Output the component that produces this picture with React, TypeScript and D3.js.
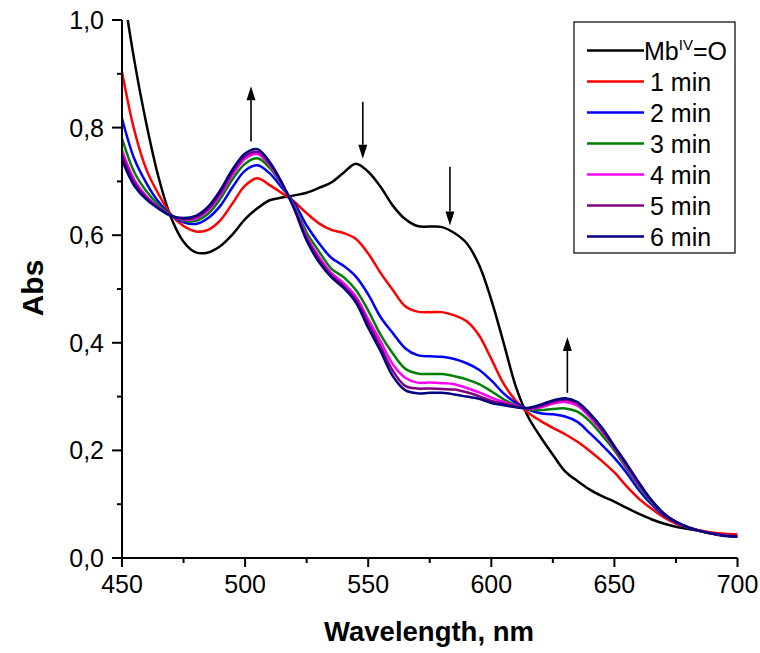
import React from "react";
import * as d3 from "d3";

const wavelengths = [450,455,460,465,470,475,480,485,490,495,500,505,510,515,520,525,530,535,540,545,550,555,560,565,570,575,580,585,590,595,600,605,610,615,620,625,630,635,640,645,650,655,660,665,670,675,680,685,690,695,700];

const mbIV = [1.07,0.925,0.805,0.705,0.632,0.588,0.568,0.568,0.580,0.602,0.630,0.650,0.665,0.670,0.674,0.679,0.688,0.698,0.716,0.733,0.718,0.690,0.655,0.630,0.617,0.616,0.615,0.604,0.585,0.545,0.480,0.400,0.318,0.262,0.225,0.192,0.161,0.143,0.127,0.115,0.105,0.093,0.082,0.072,0.064,0.058,0.054,0.050,0.046,0.043,0.041];
const min1 = [0.904,0.795,0.721,0.675,0.638,0.617,0.607,0.610,0.628,0.660,0.692,0.706,0.693,0.678,0.662,0.641,0.622,0.610,0.604,0.593,0.566,0.530,0.498,0.468,0.458,0.457,0.457,0.451,0.440,0.414,0.370,0.324,0.292,0.270,0.255,0.242,0.230,0.216,0.199,0.180,0.159,0.133,0.110,0.092,0.076,0.064,0.057,0.051,0.047,0.045,0.044];
const min2 = [0.817,0.742,0.696,0.661,0.637,0.624,0.621,0.632,0.655,0.690,0.720,0.730,0.715,0.688,0.660,0.618,0.585,0.558,0.543,0.523,0.490,0.448,0.418,0.390,0.377,0.375,0.374,0.370,0.362,0.350,0.330,0.306,0.288,0.276,0.269,0.267,0.263,0.253,0.232,0.210,0.186,0.158,0.126,0.100,0.080,0.066,0.056,0.050,0.045,0.042,0.040];
const min3 = [0.780,0.717,0.681,0.655,0.637,0.627,0.627,0.640,0.668,0.705,0.733,0.743,0.725,0.693,0.655,0.605,0.570,0.538,0.522,0.498,0.460,0.415,0.380,0.352,0.343,0.342,0.342,0.338,0.332,0.323,0.310,0.295,0.284,0.276,0.275,0.277,0.278,0.272,0.254,0.228,0.200,0.166,0.132,0.104,0.082,0.067,0.057,0.050,0.045,0.042,0.040];
const min4 = [0.758,0.703,0.672,0.651,0.636,0.629,0.631,0.646,0.675,0.713,0.742,0.751,0.730,0.694,0.652,0.598,0.560,0.530,0.511,0.486,0.444,0.403,0.360,0.335,0.326,0.326,0.325,0.323,0.316,0.308,0.298,0.290,0.283,0.277,0.280,0.287,0.290,0.283,0.262,0.235,0.204,0.170,0.136,0.106,0.083,0.067,0.057,0.050,0.045,0.042,0.040];
const min5 = [0.749,0.698,0.669,0.650,0.636,0.630,0.633,0.649,0.679,0.718,0.747,0.755,0.733,0.696,0.650,0.594,0.555,0.526,0.506,0.480,0.437,0.393,0.348,0.320,0.315,0.315,0.314,0.313,0.308,0.301,0.292,0.287,0.282,0.278,0.282,0.290,0.294,0.287,0.266,0.238,0.206,0.172,0.138,0.107,0.083,0.067,0.057,0.050,0.045,0.042,0.040];
const min6 = [0.740,0.692,0.666,0.649,0.636,0.632,0.636,0.653,0.684,0.723,0.752,0.760,0.736,0.697,0.648,0.590,0.550,0.522,0.502,0.475,0.428,0.385,0.338,0.312,0.306,0.307,0.307,0.304,0.300,0.296,0.288,0.284,0.280,0.279,0.285,0.293,0.297,0.290,0.269,0.242,0.208,0.175,0.140,0.108,0.083,0.067,0.057,0.050,0.045,0.041,0.040];

const seriesNames = ["MbIV", "1 min", "2 min", "3 min", "4 min", "5 min", "6 min"];
const seriesValues = [mbIV, min1, min2, min3, min4, min5, min6];
const seriesColors = ["#000000", "#ff0000", "#0000ff", "#008000", "#ff00ff", "#800080", "#000080"];

const xTicks = [450, 500, 550, 600, 650, 700];
const xMinorTicks = [475, 525, 575, 625, 675];
const yTicks = [0, 0.2, 0.4, 0.6, 0.8, 1.0];
const yMinorTicks = [0.1, 0.3, 0.5, 0.7, 0.9];

// arrows: wavelength, from value, to value
const arrowX = [502.4, 547.8, 583.2, 630.9];
const arrowFrom = [0.774, 0.848, 0.727, 0.307];
const arrowTo = [0.877, 0.742, 0.618, 0.411];

const W = 760, H = 653;
const x = d3.scaleLinear().domain([450, 700]).range([122, 737.5]);
const y = d3.scaleLinear().domain([0, 1]).range([558, 20]);
const FONT = "'Liberation Sans', Arial, sans-serif";

export default function App() {
  const line = d3
    .line<number>()
    .x((_, i) => x(wavelengths[i]))
    .y((v) => y(v))
    .curve(d3.curveCatmullRom.alpha(0.5));

  const fmt = (v: number) => v.toFixed(1).replace(".", ",");

  const legendX = 574, legendY = 22, legendW = 161, legendH = 231;
  const rowY0 = 50.5, rowStep = 31;

  return (
    <svg width={W} height={H} style={{ position: "absolute", left: 0, top: 0, display: "block", background: "#fff" }} fontFamily={FONT}>
      <defs>
        <clipPath id="plotClip">
          <rect x={x(450)} y={y(1)} width={x(700) - x(450)} height={y(0) - y(1)} />
        </clipPath>
      </defs>

      <g clipPath="url(#plotClip)">
        {seriesValues.map((vals, k) => (
          <path key={k} d={line(vals) || ""} fill="none" stroke={seriesColors[k]} strokeWidth={2.5} strokeLinejoin="round" />
        ))}
      </g>

      {/* arrows */}
      {arrowX.map((wl, i) => {
        const up = arrowTo[i] > arrowFrom[i];
        const x0 = x(wl);
        const y0 = y(arrowFrom[i]);
        const y1 = y(arrowTo[i]);
        const headLen = 14;
        const dir = up ? -1 : 1;
        return (
          <g key={i}>
            <line x1={x0} y1={y0} x2={x0} y2={y1 - dir * headLen} stroke="#000" strokeWidth={1.6} />
            <path d={`M${x0},${y1} L${x0 - 4.5},${y1 - dir * headLen} L${x0 + 4.5},${y1 - dir * headLen} Z`} fill="#000" />
          </g>
        );
      })}

      {/* axes */}
      <line x1={x(450)} y1={y(0)} x2={x(700)} y2={y(0)} stroke="#000" strokeWidth={2} />
      <line x1={x(450)} y1={y(0) + 1} x2={x(450)} y2={y(1)} stroke="#000" strokeWidth={2} />
      {xTicks.map((t) => (
        <g key={"xt" + t}>
          <line x1={x(t)} x2={x(t)} y1={y(0)} y2={y(0) + 9} stroke="#000" strokeWidth={2} />
          <text x={x(t)} y={593} textAnchor="middle" fontSize={25} fill="#000">{t}</text>
        </g>
      ))}
      {xMinorTicks.map((t) => (
        <line key={"xm" + t} x1={x(t)} x2={x(t)} y1={y(0)} y2={y(0) + 5} stroke="#000" strokeWidth={2} />
      ))}
      {yTicks.map((t) => (
        <g key={"yt" + t}>
          <line x1={x(450) - 10} x2={x(450)} y1={y(t)} y2={y(t)} stroke="#000" strokeWidth={2} />
          <text x={104} y={y(t) + 9} textAnchor="end" fontSize={25} fill="#000">{fmt(t)}</text>
        </g>
      ))}
      {yMinorTicks.map((t) => (
        <line key={"ym" + t} x1={x(450) - 5} x2={x(450)} y1={y(t)} y2={y(t)} stroke="#000" strokeWidth={2} />
      ))}

      <text x={429} y={641} textAnchor="middle" fontSize={27.5} fontWeight="bold" fill="#000">Wavelength, nm</text>
      <text transform="translate(43,288) rotate(-90)" textAnchor="middle" fontSize={30} fontWeight="bold" fill="#000">Abs</text>

      {/* legend */}
      <rect x={legendX} y={legendY} width={legendW} height={legendH} fill="#fff" stroke="#000" strokeWidth={1.2} />
      {seriesNames.map((name, k) => {
        const ry = rowY0 + k * rowStep;
        return (
          <g key={"lg" + k}>
            <line x1={587} x2={644} y1={ry} y2={ry} stroke={seriesColors[k]} strokeWidth={2.5} />
            {k === 0 ? (
              <text x={644} y={ry + 9} fontSize={25} fill="#000">
                Mb<tspan fontSize={15} dy={-10}>IV</tspan><tspan dy={10}>=O</tspan>
              </text>
            ) : (
              <text x={650} y={ry + 9} fontSize={25} fill="#000">{name}</text>
            )}
          </g>
        );
      })}
    </svg>
  );
}
